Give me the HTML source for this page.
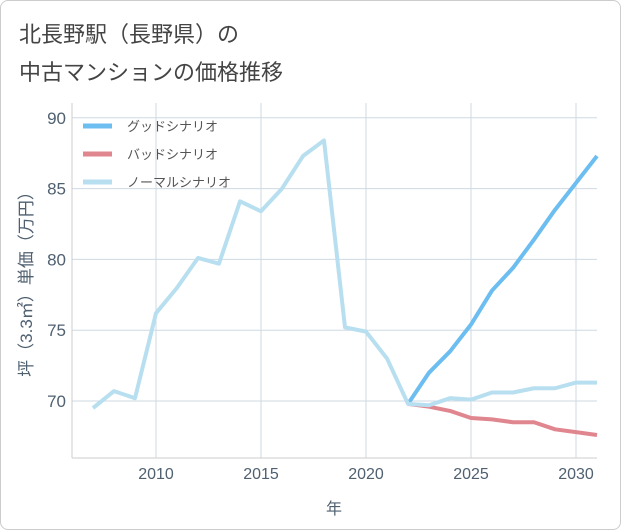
<!DOCTYPE html>
<html><head><meta charset="utf-8"><style>
body{margin:0;background:#fff;font-family:"Liberation Sans","Noto Sans CJK JP",sans-serif;}
#wrap{position:relative;width:619px;height:528px;border:1px solid #ccc;border-radius:8px;overflow:hidden;}
.title{position:absolute;left:18px;font-size:22px;color:#444;}
</style></head><body>
<div id="wrap">
<div class="title" style="top:16px">北長野駅（長野県）の</div>
<div class="title" style="top:54px">中古マンションの価格推移</div>
<svg id="chart" width="621" height="530" style="position:absolute;left:-1px;top:-1px"></svg>
</div>
<script>
const years=[2007,2008,2009,2010,2011,2012,2013,2014,2015,2016,2017,2018,2019,2020,2021,2022,2023,2024,2025,2026,2027,2028,2029,2030,2031];
const normal=[69.5,70.7,70.2,76.2,78,80.1,79.7,84.1,83.4,85,87.3,88.4,75.2,74.9,73,69.8,69.7,70.2,70.1,70.6,70.6,70.9,70.9,71.3,71.3];
const futureYears=[2022,2023,2024,2025,2026,2027,2028,2029,2030,2031];
const good=[69.8,72,73.5,75.4,77.8,79.4,81.4,83.5,85.4,87.3];
const bad=[69.8,69.6,69.3,68.8,68.7,68.5,68.5,68.0,67.8,67.6];
const xTicks=[2010,2015,2020,2025,2030];
const yTicks=[70,75,80,85,90];
const NS="http://www.w3.org/2000/svg";
const svg=document.getElementById('chart');
const L=72,R=597,T=103,B=458;
const TC='#4f6070';
const x=v=>156+(v-2010)*21;
const y=v=>401-(v-70)*14.16;
function mk(t,a){const e=document.createElementNS(NS,t);for(const k in a)e.setAttribute(k,a[k]);svg.appendChild(e);return e;}
xTicks.forEach(v=>{const g=mk('line',{x1:x(v),x2:x(v),y1:T,y2:B,stroke:'#cfd9e3','stroke-width':1});


const t=mk('text',{x:x(v),y:479,'text-anchor':'middle','font-size':16,fill:TC});t.textContent=v;

});
yTicks.forEach(v=>{const g=mk('line',{x1:L,x2:R,y1:y(v),y2:y(v),stroke:'#cfd9e3','stroke-width':1});


const t=mk('text',{x:66,y:y(v)+6,'text-anchor':'end','font-size':17,fill:TC});t.textContent=v;

});
const ax=mk('line',{x1:L,x2:L,y1:T,y2:B,stroke:'#ccc'});


const ax2=mk('line',{x1:L,x2:R,y1:B,y2:B,stroke:'#ccc'});


function line(xs,vs,c,name){const p=mk('polyline',{points:xs.map((v,i)=>x(v)+','+y(vs[i])).join(' '),fill:'none',stroke:c,'stroke-width':4,'stroke-linejoin':'round'});

}
line(futureYears,bad,'#e0868f','bad-scenario-line');
line(futureYears,good,'#6cbdf0','good-scenario-line');
line(years,normal,'#b8dff0','normal-scenario-line');
const leg=[['グッドシナリオ','#6cbdf0'],['バッドシナリオ','#e0868f'],['ノーマルシナリオ','#b8dff0']];
leg.forEach((d,i)=>{const yy=126+i*28;
const l=mk('line',{x1:83,x2:112,y1:yy,y2:yy,stroke:d[1],'stroke-width':5});


const t=mk('text',{x:127,y:yy+5,'font-size':13,fill:'#555'});t.textContent=d[0];

});
const xt=mk('text',{x:334,y:514,'text-anchor':'middle','font-size':16,fill:TC});xt.textContent='年';


const yt=mk('text',{x:0,y:0,'text-anchor':'middle','font-size':17,fill:TC,transform:'translate(32,280) rotate(-90)'});yt.textContent='坪（3.3㎡）単価（万円）';


</script>
</body></html>
